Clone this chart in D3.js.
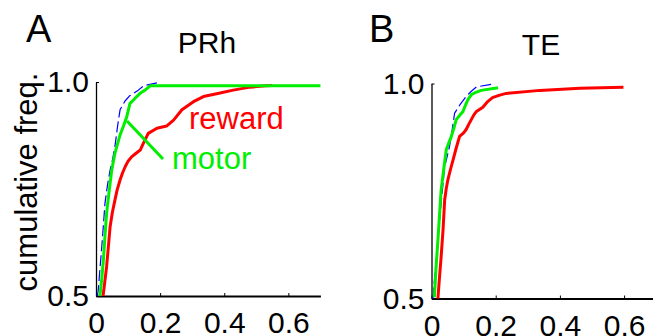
<!DOCTYPE html>
<html>
<head>
<meta charset="utf-8">
<script src="https://cdn.jsdelivr.net/npm/d3@7"></script>
<style>
  html, body { margin: 0; padding: 0; background: #fff; }
  svg { display: block; font-family: "Liberation Sans", Arial, sans-serif; }
</style>
</head>
<body>
<svg id="chart" width="653" height="336"></svg>
<script>
// ---- Data ----
const xTicks = [0, 0.2, 0.4, 0.6];
const yTicks = [0.5, 1.0];
const panelLetters = ["A", "B"];
const panelTitles = ["PRh", "TE"];
const seriesNames = ["shuffled", "reward", "motor"];

const prhShuffled = [[0.004,0.5],[0.007,0.514],[0.012,0.56],[0.018,0.615],[0.023,0.665],[0.028,0.717],[0.036,0.76],[0.044,0.794],[0.052,0.82],[0.059,0.849],[0.067,0.895],[0.075,0.935],[0.09,0.955],[0.104,0.967],[0.132,0.981],[0.148,0.991],[0.19,0.998]];
const prhReward = [[0.022,0.5],[0.027,0.53],[0.033,0.568],[0.038,0.61],[0.044,0.662],[0.051,0.695],[0.059,0.724],[0.066,0.748],[0.075,0.771],[0.083,0.788],[0.091,0.802],[0.100,0.815],[0.111,0.825],[0.124,0.833],[0.138,0.841],[0.148,0.857],[0.163,0.880],[0.19,0.892],[0.22,0.897],[0.242,0.911],[0.268,0.935],[0.304,0.954],[0.335,0.966],[0.38,0.973],[0.428,0.981],[0.48,0.988],[0.53,0.991],[0.55,0.992]];
const prhMotor = [[0.012,0.5],[0.018,0.54],[0.023,0.584],[0.028,0.64],[0.033,0.693],[0.041,0.745],[0.049,0.794],[0.059,0.833],[0.067,0.855],[0.075,0.876],[0.086,0.898],[0.096,0.919],[0.101,0.935],[0.106,0.95],[0.117,0.958],[0.127,0.966],[0.14,0.975],[0.153,0.981],[0.169,0.991],[0.7,0.991]];

const teShuffled = [[0.005,0.5],[0.009,0.542],[0.017,0.61],[0.025,0.682],[0.033,0.745],[0.041,0.806],[0.056,0.853],[0.064,0.89],[0.072,0.931],[0.09,0.952],[0.108,0.970],[0.124,0.982],[0.14,0.992],[0.186,0.998]];
const teReward = [[0.02,0.5],[0.025,0.55],[0.030,0.597],[0.036,0.66],[0.041,0.729],[0.046,0.756],[0.051,0.776],[0.059,0.80],[0.067,0.822],[0.077,0.85],[0.0875,0.877],[0.1,0.885],[0.108,0.893],[0.116,0.905],[0.124,0.916],[0.132,0.927],[0.14,0.935],[0.16,0.945],[0.175,0.958],[0.19,0.967],[0.2125,0.973],[0.233,0.977],[0.3375,0.984],[0.4625,0.989],[0.598,0.991]];
const teMotor = [[0.009,0.503],[0.014,0.57],[0.02,0.636],[0.025,0.695],[0.03,0.752],[0.038,0.80],[0.046,0.846],[0.054,0.862],[0.062,0.877],[0.07,0.897],[0.077,0.916],[0.088,0.926],[0.098,0.935],[0.106,0.95],[0.114,0.963],[0.124,0.974],[0.134,0.978],[0.155,0.984],[0.207,0.99]];

// ---- Layout / style ----
const svg = d3.select("#chart");
const colors = { shuffled: "#0000ff", reward: "#ff0000", motor: "#00ee00" };
const FONT = "Liberation Sans, Arial, sans-serif";

const panels = [
  { letter: panelLetters[0], title: panelTitles[0], series: [prhShuffled, prhReward, prhMotor],
    x0: 96, x1: 96 + 0.7 * 320.6, yB: 296, yT: 82, letterX: 26, titleX: 207, titleY: 53 },
  { letter: panelLetters[1], title: panelTitles[1], series: [teShuffled, teReward, teMotor],
    x0: 431.5, x1: 431.5 + 0.7 * 321, yB: 298.5, yT: 83.5, letterX: 369, titleX: 541, titleY: 55 }
];

panels.forEach((p, pi) => {
  const x = d3.scaleLinear().domain([0, 0.7]).range([p.x0, p.x1]);
  const y = d3.scaleLinear().domain([0.5, 1.0]).range([p.yB, p.yT]);
  const g = svg.append("g");

  // axes
  const xAxis = d3.axisBottom(x).tickValues(xTicks).tickSize(-3).tickSizeOuter(0).tickPadding(16)
    .tickFormat(d => d === 0 ? "0" : d3.format(".1f")(d));
  const gx = g.append("g").attr("transform", `translate(0,${p.yB})`).call(xAxis);
  gx.select(".domain").attr("stroke", "#000").attr("stroke-width", 2);
  gx.selectAll(".tick line").attr("stroke", "#000").attr("stroke-width", 1);
  gx.selectAll(".tick text").attr("font-size", 30).attr("font-family", FONT).attr("fill", "#000");

  const yAxis = d3.axisLeft(y).tickValues(yTicks).tickSize(-3).tickSizeOuter(0).tickPadding(7)
    .tickFormat(d3.format(".1f"));
  const gy = g.append("g").attr("transform", `translate(${p.x0},0)`).call(yAxis);
  gy.select(".domain").attr("stroke", "#000").attr("stroke-width", 1.3);
  gy.selectAll(".tick line").attr("stroke", "#000").attr("stroke-width", 1);
  gy.selectAll(".tick text").attr("font-size", 30).attr("font-family", FONT).attr("fill", "#000");

  // lines
  const line = d3.line().x(d => x(d[0])).y(d => y(d[1]));
  p.series.forEach((data, si) => {
    const name = seriesNames[si];
    g.append("path").datum(data)
      .attr("d", line)
      .attr("fill", "none")
      .attr("stroke", colors[name])
      .attr("stroke-width", name === "shuffled" ? 1.2 : 3)
      .attr("stroke-dasharray", name === "shuffled" ? "11,4" : null)
      .attr("stroke-linejoin", "round");
  });

  // letter and title
  svg.append("text").attr("x", p.letterX).attr("y", 42).attr("font-size", 38).text(p.letter);
  svg.append("text").attr("x", p.titleX).attr("y", p.titleY).attr("font-size", 30)
    .attr("text-anchor", "middle").text(p.title);

  if (pi === 0) {
    // annotations
    svg.append("text").attr("x", 189).attr("y", 129).attr("font-size", 31)
      .attr("fill", colors.reward).text("reward");
    svg.append("text").attr("x", 172).attr("y", 168.5).attr("font-size", 31)
      .attr("fill", colors.motor).text("motor");
    svg.append("line").attr("x1", 127).attr("y1", 121).attr("x2", 163).attr("y2", 159)
      .attr("stroke", colors.motor).attr("stroke-width", 3);
    // y label
    svg.append("text").attr("transform", "translate(37,182) rotate(-90)")
      .attr("text-anchor", "middle").attr("font-size", 31).text("cumulative freq.");
  }
});
</script>
</body>
</html>
